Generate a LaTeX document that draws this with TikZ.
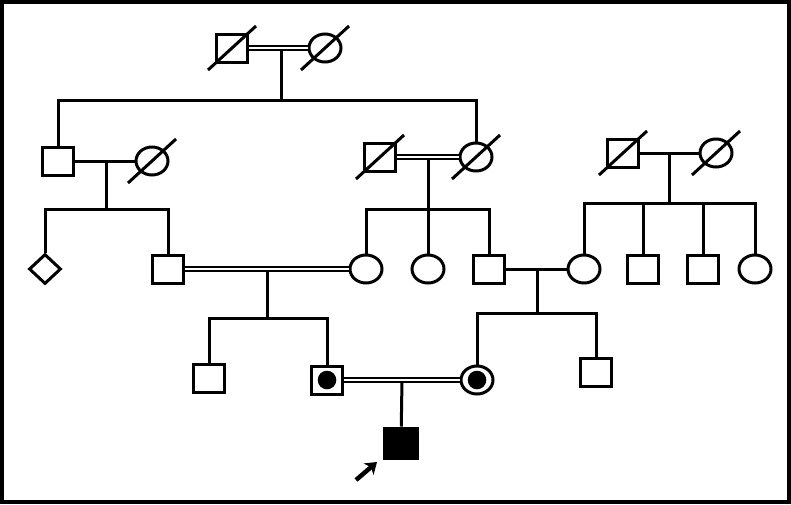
\documentclass[tikz,border=0pt]{standalone}
\usetikzlibrary{shapes.geometric,arrows.meta,calc}
\begin{document}
\begin{tikzpicture}[x=1pt,y=-1pt,
  lw/.style={line width=3pt},
  male/.style={draw,lw,rectangle,minimum width=31pt,minimum height=28pt,inner sep=0pt},
  female/.style={draw,lw,ellipse,minimum width=32pt,minimum height=28pt,inner sep=0pt},
  unknown/.style={draw,lw,diamond,minimum width=32pt,minimum height=30pt,inner sep=0pt},
  carrier/.style={path picture={\fill[black] (path picture bounding box.center) circle (9.3pt);}},
  affected/.style={fill=black,minimum width=33pt,minimum height=30pt},
  dbl/.style={draw=black,line width=2.2pt,double=white,double distance=1.6pt},
]
\useasboundingbox (0,0) rectangle (791,504);
\fill[white] (0,0) rectangle (791,504);
\draw[line width=4pt] (2,2) rectangle (789,502);

% Generation I
\node[male] (I1) at (232,48) {};
\node[female] (I2) at (325,48) {};
% Generation II
\node[male] (II1) at (58,161) {};
\node[female] (II2) at (152,161) {};
\node[male] (II3) at (380,157) {};
\node[female] (II4) at (476,157) {};
\node[male] (II5) at (623,153) {};
\node[female] (II6) at (716,153) {};
% Generation III
\node[unknown] (III1) at (45,269) {};
\node[male] (III2) at (168,269) {};
\node[female] (III3) at (366,269) {};
\node[female] (III4) at (428,269) {};
\node[male] (III5) at (489,269) {};
\node[female] (III6) at (584,269) {};
\node[male] (III7) at (643,269) {};
\node[male] (III8) at (703,269) {};
\node[female] (III9) at (755,269) {};
% Generation IV
\node[male] (IV1) at (209,378) {};
\node[male,carrier] (IV2) at (327,380) {};
\node[female,carrier] (IV3) at (477,380) {};
\node[male] (IV4) at (596,372) {};
% Generation V
\node[male,affected] (V1) at (401,443) {};

% mating / sibship coordinates
\coordinate (m1) at (281,48);  \coordinate (s1) at (281,100);
\coordinate (m2) at (106,161); \coordinate (s2) at (106,209);
\coordinate (m3) at (428,157); \coordinate (s3) at (428,209);
\coordinate (m4) at (669,153); \coordinate (s4) at (669,203);
\coordinate (m5) at (267,269); \coordinate (s5) at (267,318);
\coordinate (m6) at (537,269); \coordinate (s6) at (537,313);
\coordinate (m7) at (402,380);

% descent lines
\draw[lw] (m1) -- (s1);
\draw[lw] (II1) |- (s1) -| (II4);
\draw[lw] (m2) -- (s2);
\draw[lw] (III1) |- (s2) -| (III2);
\draw[lw] (m3) -- (III4);
\draw[lw] (III3) |- (s3) -| (III5);
\draw[lw] (m4) -- (s4);
\draw[lw] (III6) |- (s4) -| (III9);
\draw[lw] (s4) -| (III7);
\draw[lw] (s4) -| (III8);
\draw[lw] (m5) -- (s5);
\draw[lw] (IV1) |- (s5) -| (IV2);
\draw[lw] (m6) -- (s6);
\draw[lw] (IV3) |- (s6) -| (IV4);
\draw[lw] (m7) -- (V1);

% mating lines
\draw[dbl] (I1) -- (I2);
\draw[lw] (II1) -- (II2);
\draw[dbl] (II3) -- (II4);
\draw[lw] (II5) -- (II6);
\draw[dbl] (III2) -- (III3);
\draw[lw] (III5) -- (III6);
\draw[dbl] (IV2) -- (IV3);

% deceased slashes
\foreach \n in {I1,I2,II2,II3,II4,II5,II6}
  \draw[lw] ($(\n)+(-24,22)$) -- ($(\n)+(24,-22)$);

% proband arrow
\coordinate (a0) at (356,480);
\coordinate (a1) at (377,462);
\draw[line width=4.5pt,-{Stealth[length=11pt,width=15pt,inset=3pt]}] (a0) -- (a1);
\end{tikzpicture}
\end{document}
